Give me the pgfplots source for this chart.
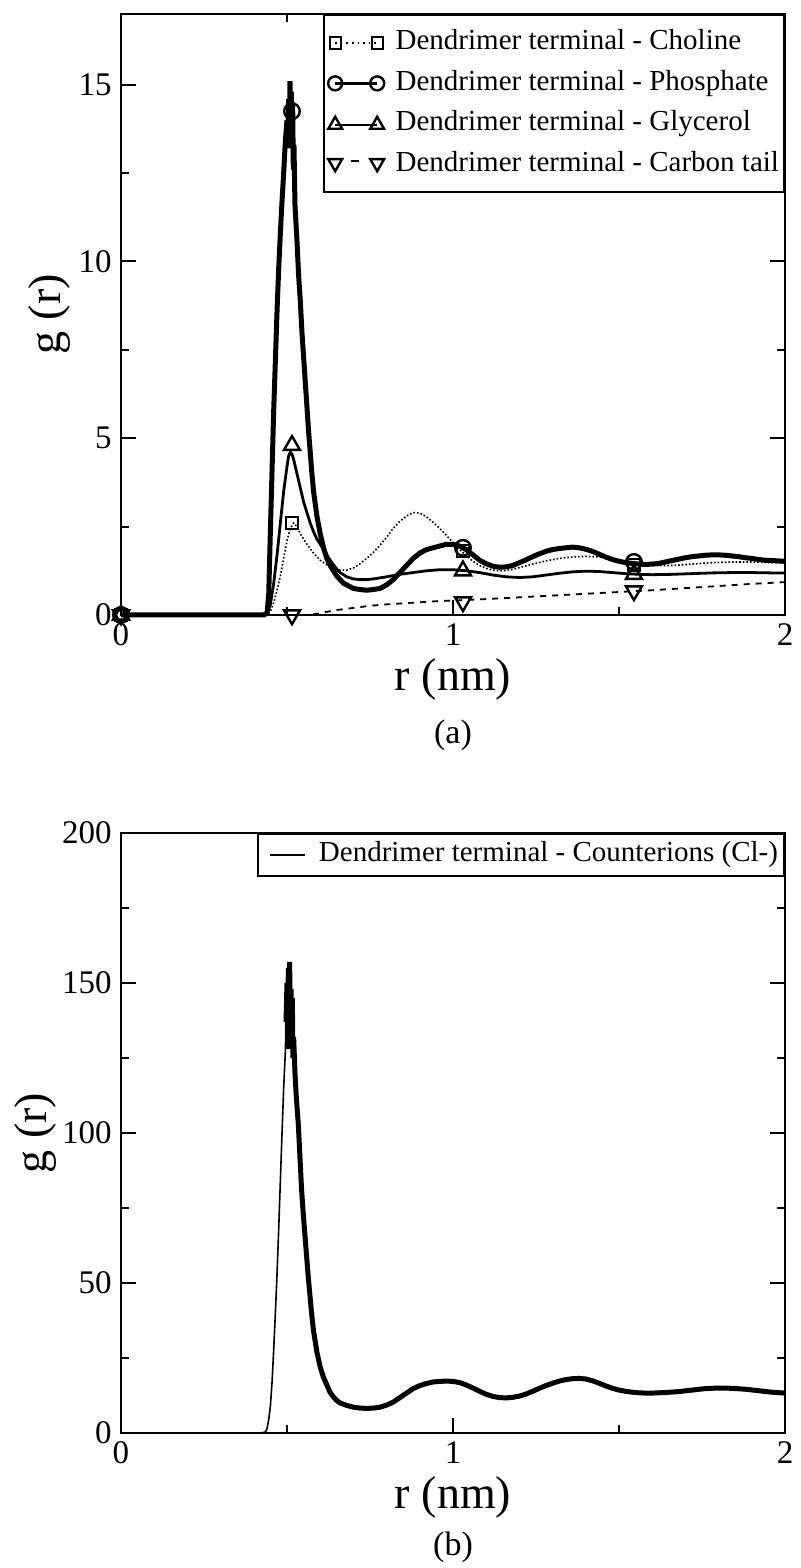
\documentclass[border=0pt]{standalone}
\usepackage{fontspec}
\setmainfont{Liberation Serif}
\usepackage{pgfplots}
\pgfplotsset{compat=1.18}

\pgfplotstableread{
r v
0 0
0.43 0
0.44 0.05
0.445 0.6
0.45 2.4
0.455 4.1
0.46 5.8
0.465 7.2
0.47 8.6
0.475 9.8
0.48 10.8
0.485 11.7
0.49 12.5
0.495 13.4
0.50 14.0
0.503 13.2
0.505 14.6
0.507 13.6
0.509 15.1
0.511 14.0
0.513 14.8
0.515 13.8
0.517 14.5
0.519 12.6
0.521 13.3
0.524 11.6
0.53 10.6
0.535 9.6
0.54 8.9
0.545 8.0
0.55 7.3
0.555 6.6
0.56 5.9
0.565 5.2
0.57 4.6
0.575 4.0
0.58 3.5
0.59 2.8
0.60 2.3
0.61 1.9
0.62 1.6
0.63 1.4
0.64 1.25
0.65 1.1
0.66 1.0
0.67 0.9
0.68 0.85
0.69 0.8
0.70 0.75
0.72 0.72
0.74 0.7
0.76 0.72
0.78 0.75
0.80 0.85
0.82 1.0
0.84 1.2
0.86 1.4
0.88 1.6
0.90 1.75
0.92 1.85
0.94 1.9
0.96 1.95
0.98 2.0
1.00 2.0
1.02 1.95
1.04 1.85
1.06 1.7
1.08 1.55
1.10 1.45
1.12 1.38
1.14 1.35
1.16 1.36
1.18 1.4
1.20 1.48
1.22 1.56
1.24 1.65
1.26 1.73
1.28 1.8
1.30 1.85
1.32 1.88
1.34 1.9
1.36 1.92
1.38 1.9
1.40 1.86
1.42 1.8
1.44 1.72
1.46 1.64
1.48 1.57
1.50 1.52
1.52 1.48
1.54 1.46
1.56 1.44
1.58 1.43
1.60 1.44
1.62 1.46
1.64 1.5
1.66 1.54
1.68 1.58
1.70 1.62
1.72 1.65
1.74 1.67
1.76 1.69
1.78 1.7
1.80 1.7
1.82 1.69
1.84 1.67
1.86 1.65
1.88 1.62
1.90 1.6
1.92 1.57
1.94 1.55
1.96 1.54
1.98 1.53
2.00 1.52
}\phosphate

\pgfplotstableread{
r v
0 0
0.43 0
0.44 0.02
0.45 0.3
0.46 0.9
0.47 1.7
0.48 2.6
0.49 3.5
0.50 4.2
0.505 4.5
0.51 4.6
0.515 4.55
0.52 4.4
0.53 4.0
0.54 3.6
0.55 3.2
0.56 2.9
0.57 2.6
0.58 2.35
0.59 2.15
0.60 2.0
0.61 1.85
0.62 1.7
0.63 1.55
0.64 1.42
0.65 1.3
0.66 1.2
0.68 1.08
0.70 1.02
0.72 1.0
0.74 1.0
0.76 1.02
0.78 1.05
0.80 1.08
0.84 1.15
0.88 1.2
0.92 1.25
0.96 1.28
1.00 1.28
1.04 1.25
1.08 1.2
1.12 1.13
1.16 1.08
1.20 1.06
1.24 1.08
1.28 1.13
1.32 1.18
1.36 1.22
1.40 1.24
1.44 1.23
1.48 1.2
1.52 1.17
1.56 1.15
1.60 1.14
1.66 1.15
1.72 1.17
1.78 1.19
1.84 1.2
1.90 1.2
1.96 1.19
2.00 1.19
}\glycerol

\pgfplotstableread{
r v
0 0
0.43 0
0.44 0.02
0.45 0.1
0.46 0.35
0.47 0.7
0.48 1.1
0.49 1.6
0.50 2.1
0.51 2.45
0.52 2.6
0.53 2.5
0.54 2.3
0.55 2.15
0.56 2.0
0.58 1.75
0.60 1.55
0.62 1.42
0.64 1.32
0.66 1.27
0.68 1.27
0.70 1.33
0.72 1.45
0.74 1.6
0.76 1.77
0.78 1.97
0.80 2.2
0.82 2.45
0.84 2.65
0.86 2.8
0.88 2.9
0.90 2.88
0.92 2.78
0.94 2.62
0.96 2.45
0.98 2.25
1.00 2.05
1.02 1.85
1.04 1.68
1.06 1.52
1.08 1.4
1.10 1.32
1.12 1.27
1.14 1.25
1.16 1.26
1.18 1.29
1.20 1.34
1.24 1.44
1.28 1.53
1.32 1.6
1.36 1.64
1.40 1.66
1.44 1.64
1.48 1.58
1.52 1.5
1.56 1.44
1.60 1.4
1.66 1.4
1.72 1.44
1.78 1.48
1.84 1.5
1.90 1.5
1.96 1.48
2.00 1.47
}\choline

\pgfplotstableread{
r v
0 0
0.55 0
0.58 0.02
0.60 0.05
0.62 0.09
0.65 0.14
0.70 0.2
0.75 0.26
0.80 0.3
0.85 0.33
0.90 0.36
0.95 0.39
1.00 0.41
1.10 0.45
1.20 0.5
1.30 0.55
1.40 0.6
1.50 0.65
1.60 0.7
1.70 0.76
1.80 0.82
1.90 0.88
2.00 0.93
}\carbontail

\pgfplotstableread{
r v
0 0
0.42 0
0.435 0.3
0.44 1.5
0.445 4.5
0.45 9
0.455 17
0.46 28
0.465 40
0.47 53
0.475 68
0.48 84
0.485 100
0.49 115
0.495 127
0.497 137
}\clrise

\pgfplotstableread{
r v
0.497 137
0.500 150
0.502 128
0.504 155
0.506 135
0.508 157
0.510 130
0.512 148
0.514 138
0.516 145
0.518 125
0.520 132
0.524 120
0.528 112
0.534 103
0.539 92
0.544 81
0.549 73
0.554 66
0.559 59
0.564 52
0.569 46
0.574 40
0.58 34
0.59 27
0.60 22
0.61 18.5
0.62 16
0.63 13.5
0.64 12
0.65 10.8
0.66 10
0.68 9.2
0.70 8.6
0.72 8.3
0.74 8.2
0.76 8.3
0.78 8.6
0.80 9.3
0.82 10.3
0.84 11.8
0.86 13.3
0.88 14.8
0.90 15.8
0.92 16.5
0.94 17
0.96 17.2
0.98 17.3
1.00 17.2
1.02 16.8
1.04 16
1.06 15
1.08 13.9
1.10 12.9
1.12 12.2
1.14 11.8
1.16 11.7
1.18 11.9
1.20 12.3
1.22 13
1.24 13.9
1.26 14.9
1.28 15.8
1.30 16.6
1.32 17.3
1.34 17.8
1.36 18.1
1.38 18.2
1.40 18
1.42 17.4
1.44 16.6
1.46 15.7
1.48 14.9
1.50 14.3
1.52 13.9
1.54 13.6
1.56 13.4
1.58 13.3
1.60 13.3
1.64 13.5
1.68 13.8
1.72 14.3
1.76 14.8
1.80 15
1.84 14.9
1.88 14.6
1.92 14.1
1.96 13.6
2.00 13.3
}\clpeak

\newcommand{\tickfont}{\fontsize{16.5}{20}\selectfont}
\newcommand{\labfont}{\fontsize{23}{27}\selectfont}
\newcommand{\legfont}{\fontsize{14.5}{17}\selectfont}

\pgfplotsset{
  grstyle/.style={
    scale only axis,
    width=332pt,
    xmin=0, xmax=2,
    xtick={0,1,2}, minor xtick={0.5,1.5},
    tick align=inside,
    xtick pos=both, ytick pos=both,
    major tick length=7.5pt, minor tick length=4pt,
    every tick/.style={black, line width=1pt},
    axis line style={line width=1pt},
    tick label style={font=\tickfont},
    xticklabel style={inner sep=4pt},
    yticklabel style={inner sep=4.5pt},
    /pgf/number format/assume math mode=true,
    xlabel={r (nm)},
    ylabel={g (r)},
    every axis x label/.style={at={(axis description cs:0.5,0)}, anchor=center, yshift=-32pt, font=\labfont},
    clip=false,
    legend cell align=left,
  },
}

\begin{document}
\begin{tikzpicture}
\path[use as bounding box] (0pt,0pt) rectangle (400pt,784pt);

% ---------- (a) ----------
\begin{axis}[
  grstyle,
  at={(60.5pt,476.5pt)}, anchor=south west,
  height=300.5pt,
  ymin=0, ymax=17,
  ytick={0,5,10,15}, minor ytick={2.5,7.5,12.5},
  every axis y label/.style={at={(axis description cs:-0.1084,0.5)}, rotate=90, anchor=center, font=\labfont},
  legend style={at={(1,1)}, anchor=north east, draw=black, line width=1pt,
    font=\legfont, inner xsep=0.5pt, inner ysep=5pt, row sep=2.2pt,
    nodes={text height=10.5pt, text depth=3.5pt, inner sep=2pt}},
]
\addplot[black, densely dotted, line width=0.8pt,
  legend image code/.code={
    \path (-4pt,0pt) (27pt,0pt);
    \draw[black, dotted, line width=0.8pt] (0pt,0pt) -- (21pt,0pt);
    \draw[black, solid, line width=1pt] plot[only marks, mark=square, mark size=2.8pt] coordinates {(0pt,0pt) (21pt,0pt)};
  }] table[x=r, y=v] {\choline};
\addlegendentry{Dendrimer terminal - Choline}
\addplot[black, line width=2.5pt,
  legend image code/.code={
    \path (-4pt,0pt) (27pt,0pt);
    \draw[black, solid, line width=1.2pt] (0pt,0pt) -- (21pt,0pt);
    \draw[black, solid, line width=1.2pt] plot[only marks, mark=o, mark size=3.5pt] coordinates {(0pt,0pt) (21pt,0pt)};
  }] table[x=r, y=v] {\phosphate};
\addlegendentry{Dendrimer terminal - Phosphate}
\addplot[black, line width=1.4pt,
  legend image code/.code={
    \path (-4pt,0pt) (27pt,0pt);
    \draw[black, solid, line width=0.8pt] (0pt,-0.5pt) -- (21pt,-0.5pt);
    \draw[black, solid, line width=1.2pt] plot[only marks, mark=triangle, mark size=4pt] coordinates {(0pt,-0.5pt) (21pt,-0.5pt)};
  }] table[x=r, y=v] {\glycerol};
\addlegendentry{Dendrimer terminal - Glycerol}
\addplot[black, dashed, line width=0.9pt,
  legend image code/.code={
    \path (-4pt,0pt) (27pt,0pt);
    \draw[black, solid, line width=0.8pt] (8pt,1.5pt) -- (12pt,1.5pt);
    \draw[black, solid, line width=1.2pt] plot[only marks, mark=triangle, mark size=4pt, mark options={rotate=180}] coordinates {(0pt,0.5pt) (21pt,0.5pt)};
  }] table[x=r, y=v] {\carbontail};
\addlegendentry{Dendrimer terminal - Carbon tail}

\addplot[forget plot, only marks, mark=square, mark size=3pt, mark options={black, solid, line width=1pt}]
  coordinates {(0,0) (0.515,2.6) (1.03,1.8) (1.545,1.42)};
\addplot[forget plot, only marks, mark=o, mark size=3.9pt, mark options={black, solid, line width=1.2pt}]
  coordinates {(0,0) (0.515,14.25) (1.03,1.9) (1.545,1.5)};
\addplot[forget plot, only marks, mark=triangle, mark size=4.6pt, mark options={black, solid, line width=1.2pt}]
  coordinates {(0,0) (0.515,4.8) (1.03,1.25) (1.545,1.15)};
\addplot[forget plot, only marks, mark=triangle, mark size=4.6pt, mark options={black, solid, line width=1.2pt, rotate=180}]
  coordinates {(0,0) (0.515,0) (1.03,0.37) (1.545,0.68)};

\node[font=\fontsize{17}{20}\selectfont] at (axis description cs:0.5,0) [yshift=-60pt] {(a)};
\end{axis}

% ---------- (b) ----------
\begin{axis}[
  grstyle,
  at={(60.5pt,67.5pt)}, anchor=south west,
  height=300pt,
  ymin=0, ymax=200,
  ytick={0,50,100,150,200}, minor ytick={25,75,125,175},
  every axis y label/.style={at={(axis description cs:-0.1295,0.5)}, rotate=90, anchor=center, font=\labfont},
  legend style={at={(1,1)}, anchor=north east, draw=black, line width=1pt,
    font=\legfont, inner xsep=1pt, inner ysep=1.5pt,
    nodes={text height=10.5pt, text depth=3.5pt, inner sep=2pt}},
]
\addplot[black, line width=0.8pt,
  legend image code/.code={
    \path (-4.5pt,0pt) (22pt,0pt);
    \draw[black, solid, line width=1pt] (0pt,0pt) -- (17.5pt,0pt);
  }] table[x=r, y=v] {\clrise};
\addlegendentry{Dendrimer terminal - Counterions (Cl-)}
\addplot[forget plot, black, line width=2.5pt] table[x=r, y=v] {\clpeak};

\node[font=\fontsize{17}{20}\selectfont] at (axis description cs:0.5,0) [yshift=-57pt] {(b)};
\end{axis}
\end{tikzpicture}
\end{document}
